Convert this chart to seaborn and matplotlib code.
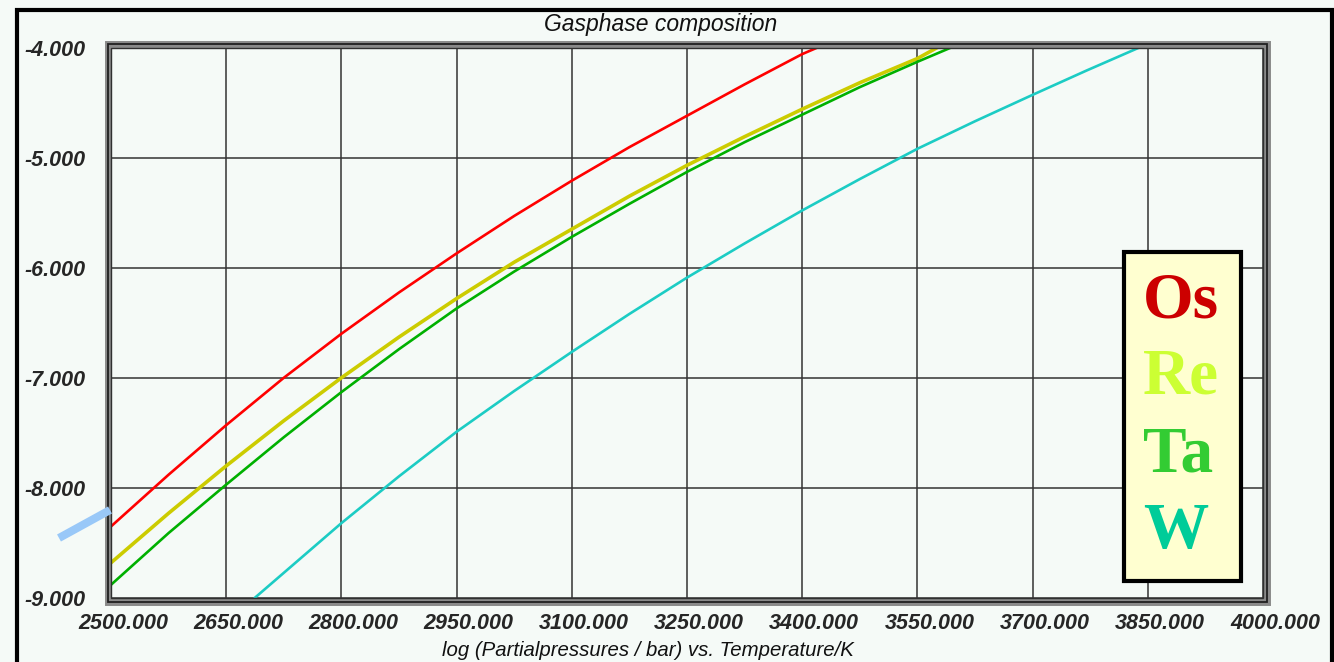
import numpy as np
import pandas as pd
import matplotlib
matplotlib.use("Agg")
import matplotlib.pyplot as plt
import matplotlib.transforms as mtransforms
from matplotlib.patches import Rectangle
from matplotlib.lines import Line2D
import seaborn as sns

# ---------------- data ----------------
os_T = [2500, 2575, 2650, 2725, 2800, 2875, 2950, 3025, 3100, 3175, 3250,
        3325, 3400, 3420]
os_logp = [-8.35, -7.88, -7.43, -7.00, -6.60, -6.225, -5.87, -5.53, -5.21,
           -4.905, -4.62, -4.335, -4.06, -4.00]

re_T = [2500, 2575, 2650, 2725, 2800, 2875, 2950, 3025, 3100, 3175, 3250,
        3325, 3400, 3475, 3550, 3576]
re_logp = [-8.68, -8.23, -7.80, -7.39, -7.00, -6.63, -6.28, -5.95, -5.65,
           -5.35, -5.07, -4.81, -4.56, -4.32, -4.10, -4.00]

ta_T = [2500, 2575, 2650, 2725, 2800, 2875, 2950, 3025, 3100, 3175, 3250,
        3325, 3400, 3475, 3550, 3594]
ta_logp = [-8.88, -8.41, -7.97, -7.54, -7.13, -6.74, -6.37, -6.035, -5.72,
           -5.42, -5.13, -4.86, -4.61, -4.36, -4.13, -4.00]

w_T = [2687, 2800, 2875, 2950, 3025, 3100, 3175, 3250, 3325, 3400, 3475,
       3550, 3625, 3700, 3770, 3839]
w_logp = [-9.00, -8.32, -7.895, -7.49, -7.12, -6.765, -6.42, -6.09, -5.78,
          -5.48, -5.195, -4.92, -4.67, -4.43, -4.21, -4.00]

x_ticks = [2500, 2650, 2800, 2950, 3100, 3250, 3400, 3550, 3700, 3850, 4000]
y_ticks = [-9, -8, -7, -6, -5, -4]
legend_labels = ["Os", "Re", "Ta", "W"]

title_text = "Gasphase composition"
xlabel_text = "log (Partialpressures / bar) vs. Temperature/K"

# ---------------- styling ----------------
W, H = 1334, 662
sns.set_style("white")
plt.rcParams["font.family"] = ["Liberation Sans", "DejaVu Sans"]

bg = "#F5FAF7"
fig = plt.figure(figsize=(W / 100, H / 100), dpi=100, facecolor=bg)

def fx(x):
    return x / W

def fy(y):
    return 1 - y / H

L, R, T, B = 111, 1263, 47.5, 598
ax = fig.add_axes([fx(L), fy(B), (R - L) / W, (B - T) / H])
ax.set_facecolor(bg)

series = [
    ("Os", os_T, os_logp, "#FF0000", 1.9),
    ("Re", re_T, re_logp, "#CCCC00", 2.6),
    ("Ta", ta_T, ta_logp, "#00B000", 1.9),
    ("W", w_T, w_logp, "#1CCCC4", 1.9),
]
for name, tt, vv, col, lw in series:
    df = pd.DataFrame({"T": tt, "logp": vv})
    sns.lineplot(data=df, x="T", y="logp", ax=ax, color=col, linewidth=lw,
                 sort=False, estimator=None, legend=False, zorder=3)

ax.set_xlim(2500, 4000)
ax.set_ylim(-9, -4)
ax.set_xticks(x_ticks)
ax.set_yticks(y_ticks)
ax.set_xticklabels([f"{v:.3f}" for v in x_ticks], fontsize=15.5,
                   fontweight="bold", fontstyle="italic")
ax.set_yticklabels([f"{v:.3f}" for v in y_ticks], fontsize=15.5,
                   fontweight="bold", fontstyle="italic")
ax.tick_params(axis="both", length=0)
ax.tick_params(axis="y", pad=18)
ax.tick_params(axis="x", pad=11)
offset = mtransforms.ScaledTranslation(12 / 100, 0, fig.dpi_scale_trans)
for lab in ax.get_xticklabels():
    lab.set_transform(lab.get_transform() + offset)
ax.set_xlabel("")
ax.set_ylabel("")
ax.grid(True, color="#333333", linewidth=1.1)
ax.set_axisbelow(True)
for s in ax.spines.values():
    s.set_visible(False)

# plot-area border (gray / black / gray)
pad = 3.5
border_kw = dict(transform=fig.transFigure, fill=False)
fig.add_artist(Rectangle((fx(L - pad), fy(B + pad)), (R - L + 2 * pad) / W,
                         (B - T + 2 * pad) / H, edgecolor="#8A8A8A",
                         linewidth=5.0, **border_kw))
fig.add_artist(Rectangle((fx(L - pad), fy(B + pad)), (R - L + 2 * pad) / W,
                         (B - T + 2 * pad) / H, edgecolor="#202020",
                         linewidth=1.3, **border_kw))
fig.add_artist(Rectangle((fx(L), fy(B)), (R - L) / W, (B - T) / H,
                         edgecolor="#303030", linewidth=1.0, **border_kw))

# outer frame
fig.add_artist(Rectangle((fx(17), fy(700)), (1331.5 - 17) / W, (700 - 9.5) / H,
                         edgecolor="black", linewidth=3.0, **border_kw))

# title and axis label
fig.text(fx(661), fy(24), title_text, ha="center", va="center",
         fontsize=16.5, fontstyle="italic", color="#111111")
fig.text(fx(648), fy(650), xlabel_text, ha="center", va="center",
         fontsize=14.7, fontstyle="italic", color="#111111")

# blue marker stub
fig.add_artist(Line2D([fx(59), fx(110)], [fy(538), fy(510)],
                      transform=fig.transFigure, color="#99C8F8",
                      linewidth=5.8, solid_capstyle="butt"))

# legend box
fig.add_artist(Rectangle((fx(1124), fy(581)), (1241 - 1124) / W, (581 - 252) / H,
                         transform=fig.transFigure, facecolor="#FFFFD0",
                         edgecolor="black", linewidth=3.0, zorder=5))
leg_colors = ["#CC0000", "#CCFF33", "#33CC33", "#00CC99"]
leg_y = [302, 378, 455, 532]
for lab, c, yy in zip(legend_labels, leg_colors, leg_y):
    fig.text(fx(1143), fy(yy), lab, ha="left", va="center", fontsize=47,
             fontweight="bold", color=c, family=["Liberation Serif", "DejaVu Serif"],
             zorder=6)

fig.savefig("out.png", dpi=100, facecolor=bg)
